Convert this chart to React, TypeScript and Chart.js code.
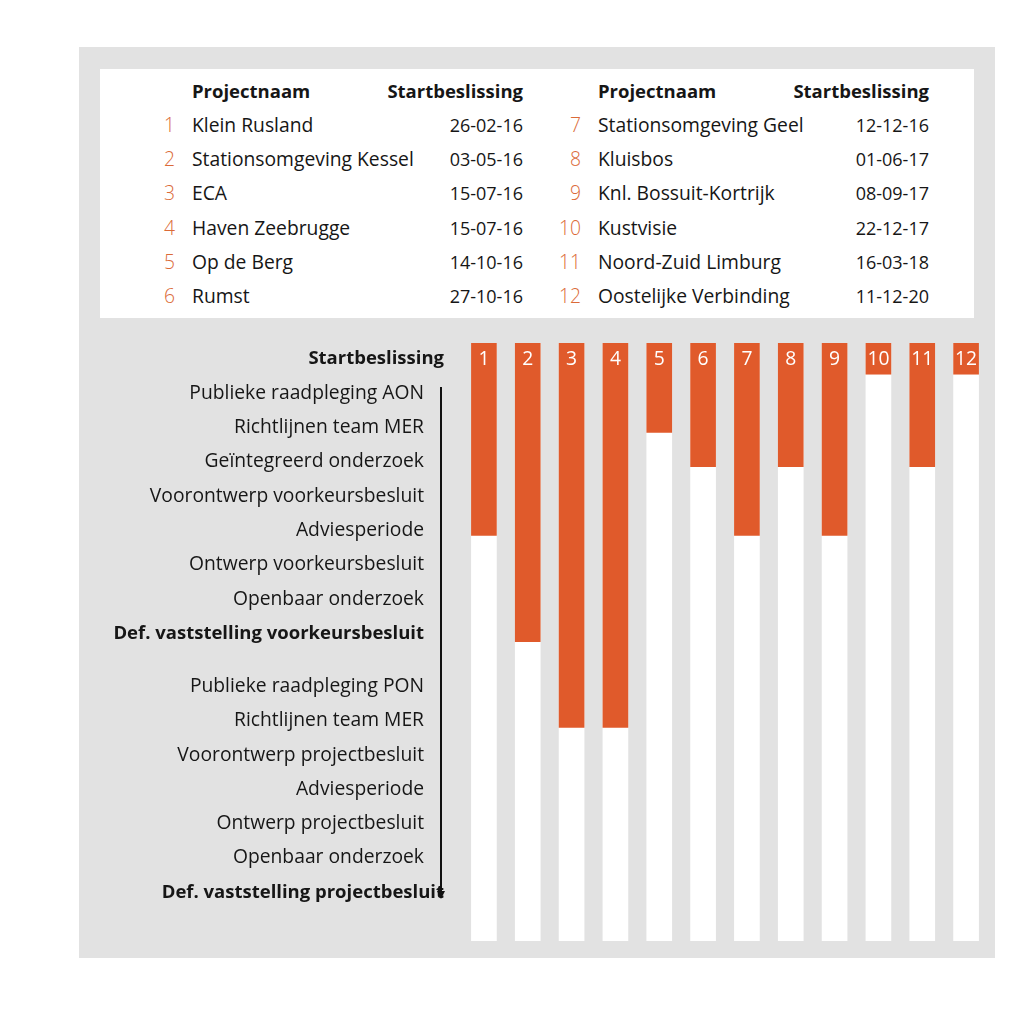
import React, { useEffect, useRef } from "react";
import { Chart, registerables } from "chart.js";

Chart.register(...registerables);

const PROJECT_NUMBERS = ["1", "2", "3", "4", "5", "6", "7", "8", "9", "10", "11", "12"];
const PROJECT_NAMES = [
  "Klein Rusland",
  "Stationsomgeving Kessel",
  "ECA",
  "Haven Zeebrugge",
  "Op de Berg",
  "Rumst",
  "Stationsomgeving Geel",
  "Kluisbos",
  "Knl. Bossuit-Kortrijk",
  "Kustvisie",
  "Noord-Zuid Limburg",
  "Oostelijke Verbinding",
];
const START_DATES = [
  "26-02-16",
  "03-05-16",
  "15-07-16",
  "15-07-16",
  "14-10-16",
  "27-10-16",
  "12-12-16",
  "01-06-17",
  "08-09-17",
  "22-12-17",
  "16-03-18",
  "11-12-20",
];
const TABLE_HEADERS = ["Projectnaam", "Startbeslissing"];

const STAGES = [
  "Startbeslissing",
  "Publieke raadpleging AON",
  "Richtlijnen team MER",
  "Geïntegreerd onderzoek",
  "Voorontwerp voorkeursbesluit",
  "Adviesperiode",
  "Ontwerp voorkeursbesluit",
  "Openbaar onderzoek",
  "Def. vaststelling voorkeursbesluit",
  "Publieke raadpleging PON",
  "Richtlijnen team MER",
  "Voorontwerp projectbesluit",
  "Adviesperiode",
  "Ontwerp projectbesluit",
  "Openbaar onderzoek",
  "Def. vaststelling projectbesluit",
];
const STAGE_POSITIONS = [0, 1, 2, 3, 4, 5, 6, 7, 8, 9.55, 10.55, 11.55, 12.55, 13.55, 14.55, 15.55];
const BOLD_STAGES = [0, 8, 15];
const PROGRESS_END = [5.2, 8.3, 10.8, 10.8, 2.2, 3.2, 5.2, 3.2, 5.2, 0.5, 3.2, 0.5];
const TRACK_START = -0.41;
const TRACK_END = 17.03;

const ORANGE = "#e05a2b";
const NUM_ORANGE = "#db6a38";
const GRAY = "#e2e2e2";
const TEXT = "#161616";
const FONT = '"Open Sans", sans-serif';
const FS = 19.3;
const FS_BOLD = 18.5;
const FS_DATE = 18;

const CANVAS_LEFT = 79;
const CANVAS_TOP = 325;
const CANVAS_W = 916;
const CANVAS_H = 633;

const overlayPlugin = {
  id: "overlay",
  afterDatasetsDraw(chart: any) {
    const ctx = chart.ctx;
    const y = chart.scales.y;
    ctx.save();
    // stage labels
    ctx.textBaseline = "middle";
    ctx.textAlign = "right";
    STAGES.forEach((s, i) => {
      const bold = BOLD_STAGES.includes(i);
      ctx.font = bold ? `700 ${FS_BOLD}px ${FONT}` : `400 ${FS}px ${FONT}`;
      ctx.fillStyle = TEXT;
      const wide = i === 0 || i === STAGES.length - 1;
      const x = wide ? 444 - CANVAS_LEFT : 424 - CANVAS_LEFT;
      ctx.fillText(s, x, y.getPixelForValue(STAGE_POSITIONS[i]) + 2);
    });
    // arrow
    const ax = 441 - CANVAS_LEFT;
    const y0 = y.getPixelForValue(STAGE_POSITIONS[1] - 0.13);
    const y1 = y.getPixelForValue(STAGE_POSITIONS[STAGE_POSITIONS.length - 1] + 0.2);
    ctx.strokeStyle = "#111";
    ctx.lineWidth = 2;
    ctx.beginPath();
    ctx.moveTo(ax, y0);
    ctx.lineTo(ax, y1 - 4);
    ctx.stroke();
    ctx.fillStyle = "#111";
    ctx.beginPath();
    ctx.moveTo(ax - 4, y1 - 6);
    ctx.lineTo(ax + 4, y1 - 6);
    ctx.lineTo(ax, y1 + 2);
    ctx.closePath();
    ctx.fill();
    // bar numbers
    const meta = chart.getDatasetMeta(1);
    ctx.textAlign = "center";
    ctx.font = `400 ${FS}px ${FONT}`;
    ctx.fillStyle = "#ffffff";
    meta.data.forEach((bar: any, i: number) => {
      ctx.fillText(PROJECT_NUMBERS[i], bar.x, y.getPixelForValue(STAGE_POSITIONS[0]) + 2);
    });
    ctx.restore();
  },
};

function ChartCanvas() {
  const ref = useRef<HTMLCanvasElement | null>(null);
  useEffect(() => {
    if (!ref.current) return;
    const chart = new Chart(ref.current, {
      type: "bar",
      data: {
        labels: PROJECT_NUMBERS,
        datasets: [
          {
            data: PROJECT_NUMBERS.map(() => [TRACK_START, TRACK_END]) as any,
            backgroundColor: "#ffffff",
            borderWidth: 0,
            grouped: false,
            order: 2,
            barThickness: 25,
          },
          {
            data: PROGRESS_END.map((v) => [TRACK_START, v]) as any,
            backgroundColor: ORANGE,
            borderWidth: 0,
            grouped: false,
            order: 1,
            barThickness: 25,
          },
        ],
      },
      options: {
        animation: false,
        responsive: false,
        layout: {
          padding: { left: 383, right: 7, top: 18, bottom: 17 },
        },
        plugins: { legend: { display: false }, tooltip: { enabled: false } },
        scales: {
          x: { type: "category", display: false, offset: true, grid: { display: false } },
          y: {
            type: "linear",
            display: false,
            reverse: true,
            min: TRACK_START,
            max: TRACK_END,
          },
        },
      },
      plugins: [overlayPlugin],
    });
    return () => chart.destroy();
  }, []);
  return (
    <canvas
      ref={ref}
      width={CANVAS_W}
      height={CANVAS_H}
      style={{ position: "absolute", left: CANVAS_LEFT, top: CANVAS_TOP, width: CANVAS_W, height: CANVAS_H }}
    />
  );
}

function TableHalf({ offset, start }: { offset: number; start: number }) {
  const rowH = 34.3;
  const cell = (top: number, left: number, width: number, align: "left" | "right", content: string, style: any) => (
    <div
      style={{
        position: "absolute",
        top: top - rowH / 2,
        left,
        width,
        height: rowH,
        lineHeight: `${rowH}px`,
        textAlign: align,
        whiteSpace: "nowrap",
        ...style,
      }}
    >
      {content}
    </div>
  );
  const items = [];
  items.push(
    <React.Fragment key="h">
      {cell(91, 192 + offset, 200, "left", TABLE_HEADERS[0], { fontWeight: 700, fontSize: FS_BOLD })}
      {cell(91, 323 + offset, 200, "right", TABLE_HEADERS[1], { fontWeight: 700, fontSize: FS_BOLD })}
    </React.Fragment>
  );
  for (let i = 0; i < 6; i++) {
    const idx = start + i;
    const yc = 125 + rowH * i;
    items.push(
      <React.Fragment key={idx}>
        {cell(yc, 135 + offset, 40, "right", PROJECT_NUMBERS[idx], { color: NUM_ORANGE, fontWeight: 300 })}
        {cell(yc, 192 + offset, 260, "left", PROJECT_NAMES[idx], {})}
        {cell(yc, 403 + offset, 120, "right", START_DATES[idx], { fontSize: FS_DATE })}
      </React.Fragment>
    );
  }
  return <>{items}</>;
}

export default function App() {
  return (
    <div
      style={{
        position: "absolute",
        left: 0,
        top: 0,
        width: 1024,
        height: 1014,
        background: "#ffffff",
        fontFamily: FONT,
        fontSize: FS,
        color: TEXT,
      }}
    >
      <div style={{ position: "absolute", left: 79, top: 47, width: 916, height: 911, background: GRAY }} />
      <div style={{ position: "absolute", left: 100, top: 69, width: 874, height: 249, background: "#ffffff" }} />
      <TableHalf offset={0} start={0} />
      <TableHalf offset={406} start={6} />
      <ChartCanvas />
    </div>
  );
}
